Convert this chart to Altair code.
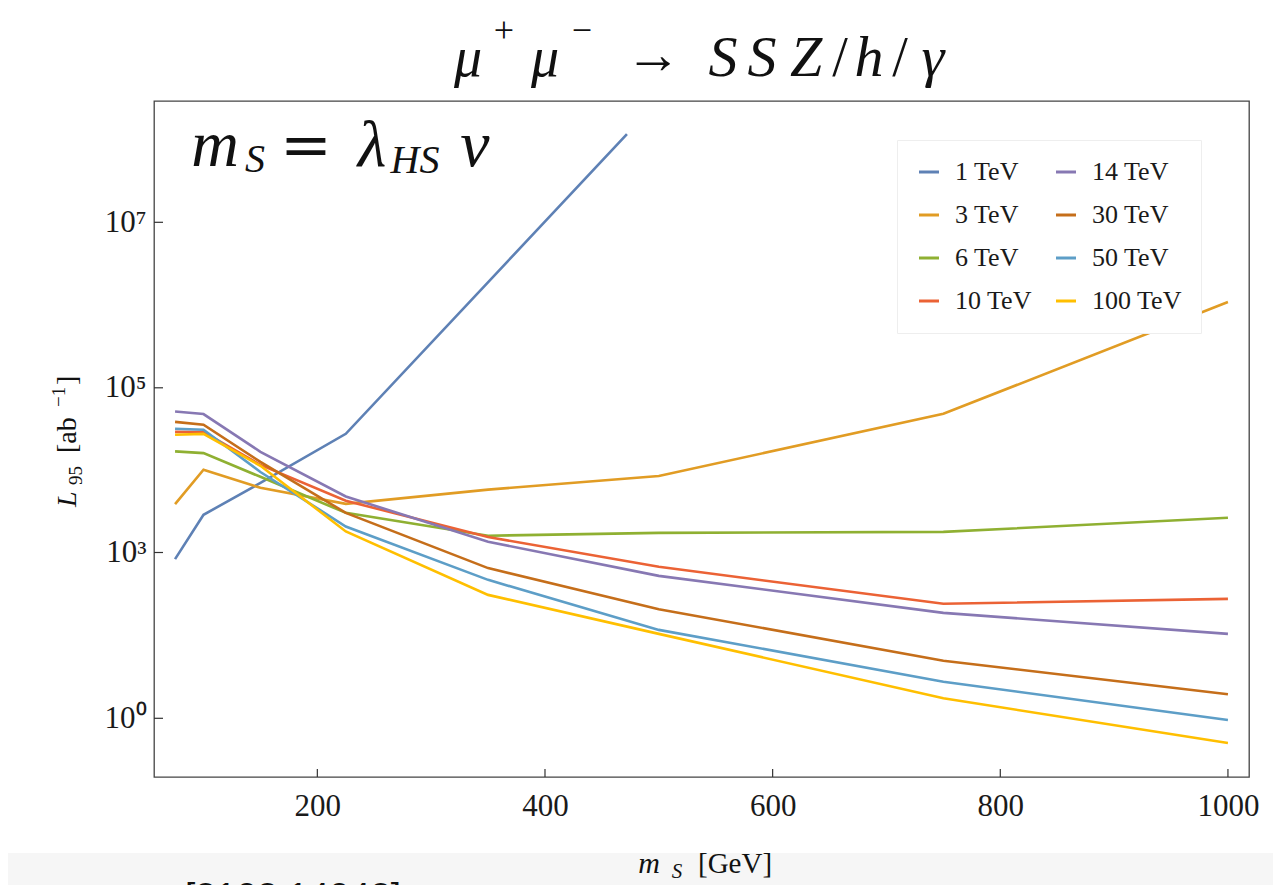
import altair as alt
import pandas as pd

# ---------------- data ----------------
mass = [75, 100, 150, 225, 350, 500, 750, 1000]
mass_1tev = [75, 100, 150, 225, 472]

l95_1tev = [7.6e2, 2.87e3, 7.0e3, 2.76e4, 1.16e8]
l95_3tev = [3.87e3, 1.01e4, 6.1e3, 3.9e3, 5.8e3, 8.5e3, 4.83e4, 1.09e6]
l95_6tev = [1.69e4, 1.61e4, 8.3e3, 3.03e3, 1.6e3, 1.73e3, 1.78e3, 2.64e3]
l95_10tev = [2.92e4, 2.9e4, 1.16e4, 4.25e3, 1.54e3, 551, 118, 145]
l95_14tev = [5.15e4, 4.8e4, 1.67e4, 4.79e3, 1.35e3, 378, 80.8, 33.7]
l95_30tev = [3.86e4, 3.56e4, 1.26e4, 3.03e3, 522, 94.3, 11.0, 2.72]
l95_50tev = [3.18e4, 3.09e4, 9.5e3, 2.07e3, 320, 39.8, 4.6, 0.93]
l95_100tev = [2.69e4, 2.76e4, 1.13e4, 1.8e3, 171, 33.7, 2.3, 0.357]

series_names = ["1 TeV", "3 TeV", "6 TeV", "10 TeV", "14 TeV", "30 TeV", "50 TeV", "100 TeV"]
series_colors = ["#5E81B5", "#E19C24", "#8FB032", "#EB6235", "#8778B3", "#C56E1A", "#5D9EC7", "#FFBF00"]

x_tick_values = [200, 400, 600, 800, 1000]
y_tick_values = [1, 1e3, 1e5, 1e7]
y_tick_labels = ["10⁰", "10³", "10⁵", "10⁷"]

# ---------------- build table ----------------
all_vals = [l95_1tev, l95_3tev, l95_6tev, l95_10tev, l95_14tev, l95_30tev, l95_50tev, l95_100tev]
rows = []
for name, vals in zip(series_names, all_vals):
    ms = mass_1tev if name == "1 TeV" else mass
    for m, v in zip(ms, vals):
        rows.append({"series": name, "m": m, "L": v})
df = pd.DataFrame(rows)

W, H = 1095, 676
SERIF = "Liberation Serif"

xscale = alt.Scale(domain=[56.5, 1018.5], nice=False, zero=False)
yscale = alt.Scale(type="log", domain=[0.0867, 1, 1e3, 1e5, 1e7, 2.92e8],
                   range=[H, 617.3, 451.5, 286.8, 121.3, 0], nice=False)

label_expr = " : ".join(
    f"datum.value < {v * 3} ? '{lab}'" for v, lab in zip(y_tick_values[:-1], y_tick_labels[:-1])
) + f" : '{y_tick_labels[-1]}'"

x_axis = alt.Axis(values=x_tick_values, format="d", ticks=False, grid=False, domain=False,
                  labelFont=SERIF, labelFontSize=31, labelColor="#1a1a1a",
                  labelPadding=14, title=None)
y_axis = alt.Axis(values=y_tick_values, labelExpr=label_expr, ticks=False, grid=False,
                  domain=False, labelFont=SERIF, labelFontSize=31, labelColor="#1a1a1a",
                  labelPadding=8, title=None)

lines = alt.Chart(df).mark_line(strokeWidth=2.6, clip=True).encode(
    x=alt.X("m:Q", scale=xscale, axis=x_axis),
    y=alt.Y("L:Q", scale=yscale, axis=y_axis),
    color=alt.Color("series:N", scale=alt.Scale(domain=series_names, range=series_colors),
                    legend=alt.Legend(orient="none", legendX=743, legendY=39, columns=2, title=None,
                                      symbolType="stroke", symbolStrokeWidth=3, symbolSize=400,
                                      labelFont=SERIF, labelFontSize=26, labelColor="#1a1a1a",
                                      labelOffset=13, rowPadding=17, columnPadding=18, padding=19,
                                      strokeColor="#eeeeee", fillColor="white")),
)

xticks = alt.Chart(pd.DataFrame({"m": x_tick_values})).mark_rule(color="#333", strokeWidth=1.2).encode(
    x=alt.X("m:Q", scale=xscale, axis=x_axis), y=alt.value(H), y2=alt.value(H - 8))
yticks = alt.Chart(pd.DataFrame({"L": y_tick_values})).mark_rule(color="#333", strokeWidth=1.2).encode(
    y=alt.Y("L:Q", scale=yscale, axis=y_axis), x=alt.value(0), x2=alt.value(9))

dummy = pd.DataFrame({"k": [0]})


def txt(s, x, y, size, style="italic", align="center", baseline="alphabetic", angle=None,
        font=SERIF, color="#111111"):
    kw = dict(text=s, font=font, fontSize=size, fontStyle=style, align=align,
              baseline=baseline, color=color)
    if angle is not None:
        kw["angle"] = angle
    return alt.Chart(dummy).mark_text(**kw).encode(x=alt.value(x), y=alt.value(y))


band = alt.Chart(dummy).mark_rect(color="#f6f6f6").encode(
    x=alt.value(-160), x2=alt.value(1300), y=alt.value(752), y2=alt.value(820))

texts = [
    # title  mu+ mu- -> SSZ/h/gamma
    txt("μ", 314, -25, 56),
    txt("+", 350, -70, 36, style="normal", baseline="middle"),
    txt("μ", 391, -25, 56),
    txt("−", 428, -70, 36, style="normal", baseline="middle"),
    txt("→", 499, -45, 56, style="normal", baseline="middle"),
    txt("S", 569, -25, 58),
    txt("S", 608, -25, 58),
    txt("Z", 652, -25, 58),
    txt("/", 686, -25, 56, style="normal"),
    txt("h", 715, -25, 58),
    txt("/", 746, -25, 56, style="normal"),
    txt("γ", 779, -25, 58),
    # annotation m_S = lambda_HS v
    txt("m", 61, 65, 66),
    txt("S", 101, 71, 40),
    txt("=", 152, 65, 62, style="normal", font="DejaVu Serif"),
    txt("λ", 218, 65, 66),
    txt("HS", 261, 72, 40),
    txt("v", 321, 65, 66),
    # x title
    txt("m", 495, 772, 30),
    txt("S", 523, 777, 21),
    txt("[GeV]", 544, 772, 29, style="normal", align="left"),
    # y title (rotated)
    txt("L", -78, 406, 28, align="left", angle=270),
    txt("95", -72, 384, 19, style="normal", align="left", angle=270),
    txt("[ab", -78, 352, 28, style="normal", align="left", angle=270),
    txt("−1", -89, 306, 19, style="normal", align="left", angle=270),
    txt("]", -78, 284, 28, style="normal", align="left", angle=270),
    # cut-off reference line at the bottom
    txt("[2102.14042]", 31, 808, 37, style="normal", align="left", font="Liberation Sans"),
]

chart = alt.layer(band, lines, xticks, yticks, *texts).properties(
    width=W, height=H,
    autosize=alt.AutoSizeParams(type="none"),
    padding={"left": 146, "top": 93, "right": 24, "bottom": 108},
    background="white",
).configure_view(stroke="#444444", strokeWidth=1.3)

chart.save("out.html", embed_options={"renderer": "svg", "actions": False})
